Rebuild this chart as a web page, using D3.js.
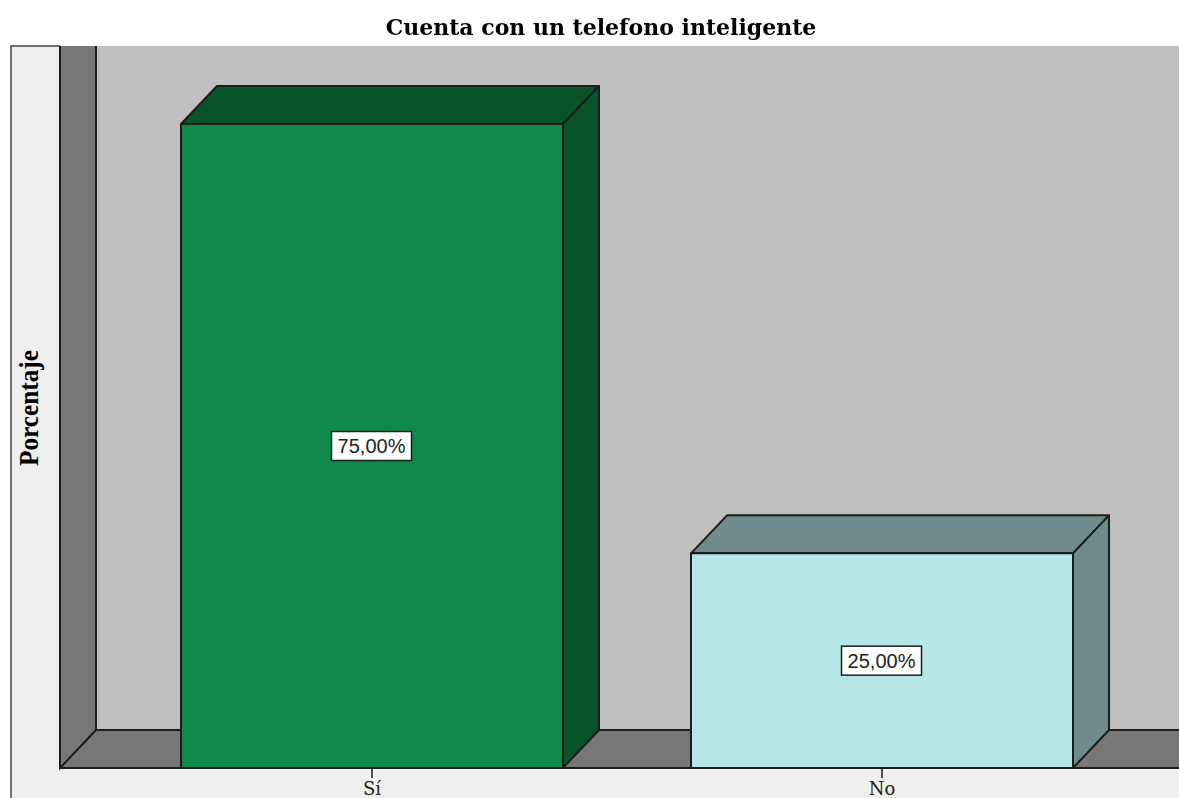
<!DOCTYPE html>
<html>
<head>
<title>Cuenta con un telefono inteligente</title>
<style>
html, body { margin: 0; padding: 0; background: white; }
svg { display: block; filter: blur(0.4px); }
.title { font-family: "DejaVu Serif", serif; font-weight: bold; font-size: 22px; }
.ylabel { font-family: "Liberation Serif", serif; font-weight: bold; font-size: 27px; }
.tick text { font-family: "DejaVu Serif", serif; font-size: 18px; fill: #222; }
.value { font-family: "Liberation Sans", sans-serif; font-size: 20px; fill: #222; }
</style>
<script src="https://d3js.org/d3.v7.min.js"></script>
</head>
<body>
<svg width="1179" height="798"></svg>
<script>
const categories = ['Sí', 'No'];
const percents = [75, 25];
const valueLabels = ['75,00%', '25,00%'];
const frontColors = ['#108a49', '#b6e7e8'];
const sideColors = ['#085329', '#6f8b8c'];

const W = 1179, H = 798;
const frameLeft = 11, frameTop = 46;
const floorY = 768, wallX = 60;
// 3d offset of the box
const dx = 36, dy = 38;
const ink = '#1c1c1c';

const svg = d3.select('svg');

const x = d3.scaleBand()
  .domain(categories)
  .range([117, 1137])
  .paddingInner(128 / 510)
  .paddingOuter(64 / 510);

const y = d3.scaleLinear().domain([0, 75]).range([floorY, 124]);

// outer panel
svg.append('rect').attr('x', frameLeft).attr('y', frameTop)
  .attr('width', W - frameLeft).attr('height', H - frameTop)
  .attr('fill', '#efefef');
svg.append('path').attr('d', `M${frameLeft},${H}V${frameTop}H${wallX}`)
  .attr('fill', 'none').attr('stroke', '#444').attr('stroke-width', 1.5);

// back wall
svg.append('rect').attr('x', wallX + dx).attr('y', frameTop)
  .attr('width', W - wallX - dx).attr('height', floorY - dy - frameTop)
  .attr('fill', '#c0c0c0');

// left wall and floor
const shell = svg.append('g').attr('fill', '#777');
shell.append('path').attr('d', `M${wallX},${frameTop}H${wallX + dx}V${floorY - dy}L${wallX},${floorY}Z`);
shell.append('path').attr('d', `M${wallX},${floorY}L${wallX + dx},${floorY - dy}H${W + 5}V${floorY}Z`);
// no edge along the top of the wall
svg.append('path')
  .attr('d', `M${wallX},${frameTop}V${floorY}L${wallX + dx},${floorY - dy}V${frameTop}M${wallX + dx},${floorY - dy}H${W + 5}`)
  .attr('fill', 'none').attr('stroke', ink).attr('stroke-width', 2);

// bars
const bars = svg.selectAll('.bar')
  .data(categories)
  .enter().append('g')
  .attr('class', 'bar')
  .attr('stroke', ink)
  .attr('stroke-width', 2)
  .attr('stroke-linejoin', 'round');

bars.append('path')
  .attr('fill', (d, i) => sideColors[i])
  .attr('d', (d, i) => {
    const x0 = x(d), x1 = x0 + x.bandwidth(), t = y(percents[i]);
    return `M${x0},${t}L${x0 + dx},${t - dy}H${x1 + dx}L${x1},${t}Z`;
  });

bars.append('path')
  .attr('fill', (d, i) => sideColors[i])
  .attr('d', (d, i) => {
    const x1 = x(d) + x.bandwidth(), t = y(percents[i]);
    return `M${x1},${t}L${x1 + dx},${t - dy}V${floorY - dy}L${x1},${floorY}Z`;
  });

bars.append('rect')
  .attr('x', d => x(d))
  .attr('y', (d, i) => y(percents[i]))
  .attr('width', x.bandwidth())
  .attr('height', (d, i) => floorY - y(percents[i]))
  .attr('fill', (d, i) => frontColors[i]);

// value labels
const labels = svg.selectAll('.value-label')
  .data(categories)
  .enter().append('g')
  .attr('class', 'value-label')
  .attr('transform', (d, i) => `translate(${x(d) + x.bandwidth() / 2 - 0.5},${(y(percents[i]) + floorY) / 2})`);

labels.append('rect')
  .attr('x', -40).attr('y', -14.5)
  .attr('width', 80).attr('height', 29)
  .attr('fill', 'white')
  .attr('stroke', ink)
  .attr('stroke-width', 1.5);

labels.append('text')
  .attr('class', 'value')
  .attr('text-anchor', 'middle')
  .attr('dy', '0.36em')
  .text((d, i) => valueLabels[i]);

// axis, its line runs the full floor width so the domain path is dropped
const axis = svg.append('g')
  .attr('transform', `translate(0,${floorY})`)
  .call(d3.axisBottom(x).tickSizeInner(10).tickSizeOuter(0).tickPadding(4));
axis.select('.domain').remove();
axis.selectAll('.tick line').attr('stroke', ink).attr('stroke-width', 1.5);

svg.append('line')
  .attr('x1', wallX).attr('x2', W)
  .attr('y1', floorY).attr('y2', floorY)
  .attr('stroke', ink).attr('stroke-width', 2);

// titles
svg.append('text')
  .attr('class', 'title')
  .attr('x', 601).attr('y', 35)
  .attr('text-anchor', 'middle')
  .text('Cuenta con un telefono inteligente');

svg.append('text')
  .attr('class', 'ylabel')
  .attr('transform', 'translate(37.5,408) rotate(-90)')
  .attr('text-anchor', 'middle')
  .attr('textLength', 116)
  .attr('lengthAdjust', 'spacingAndGlyphs')
  .text('Porcentaje');
</script>
</body>
</html>
